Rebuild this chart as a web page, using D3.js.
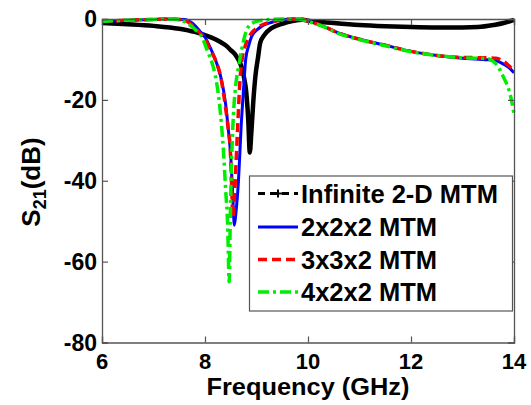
<!DOCTYPE html>
<html>
<head>
<meta charset="utf-8">
<script src="https://cdn.jsdelivr.net/npm/d3@7"></script>
<style>
  body { margin: 0; background: #fff; }
  text { font-family: "Liberation Sans", Arial, sans-serif; font-weight: bold; }
</style>
</head>
<body>
<script>
//chart values
var xTicks = [6, 8, 10, 12, 14];
var yTicks = [0, -20, -40, -60, -80];
var yTickLabels = ["0", "-20", "-40", "-60", "-80"];

var infFreq = [6, 6.5, 7, 7.5, 7.8, 8.0, 8.2, 8.3, 8.4, 8.5, 8.6, 8.65, 8.7, 8.75, 8.8, 8.84, 8.87, 8.9, 8.94, 8.98, 9.03, 9.07, 9.15, 9.3, 9.5, 9.7, 9.9, 10.0, 10.5, 11, 11.5, 12, 12.5, 13, 13.3, 13.6, 13.8, 14];
var infDb   = [-1.0, -1.3, -1.7, -2.4, -3.2, -4.0, -5.0, -5.7, -6.5, -7.7, -9.0, -10.1, -11.5, -14, -18, -25, -33, -28, -20, -14, -9.5, -6, -4, -2.2, -1.2, -0.5, -0.2, -0.4, -1.0, -1.5, -1.8, -2.0, -2.1, -2.1, -2.0, -1.5, -1.0, -0.2];

var mtm2Freq = [6, 6.5, 7, 7.3, 7.6, 7.75, 7.9, 8.0, 8.1, 8.2, 8.3, 8.4, 8.45, 8.5, 8.54, 8.57, 8.6, 8.65, 8.7, 8.75, 8.79, 8.85, 8.9, 9.0, 9.1, 9.3, 9.5, 9.7, 9.9, 10.0, 10.3, 10.6, 11.0, 11.5, 12.0, 12.5, 13.0, 13.5, 13.65, 13.8, 13.9, 14];
var mtm2Db   = [-0.6, -0.3, -0.1, 0, -0.1, -1.0, -3.0, -4.5, -7.0, -10.0, -14.0, -21, -27, -34, -44, -51, -48, -40, -27, -17, -10, -6.5, -4.5, -2.8, -1.8, -0.8, -0.2, 0, -0.1, -0.5, -1.8, -3.5, -5.0, -6.5, -8.0, -9.0, -9.7, -10.1, -10.3, -11.2, -12.0, -13.3];

var mtm3Freq = [6, 6.5, 7, 7.3, 7.55, 7.7, 7.85, 8.0, 8.1, 8.23, 8.3, 8.4, 8.45, 8.49, 8.52, 8.54, 8.56, 8.58, 8.63, 8.68, 8.72, 8.8, 8.9, 9.0, 9.2, 9.5, 9.7, 9.9, 10.0, 10.3, 10.6, 11.0, 11.5, 12.0, 12.5, 13.0, 13.5, 13.65, 13.8, 13.92, 14];
var mtm3Db   = [-0.6, -0.3, -0.1, 0, -0.2, -1.0, -2.8, -5.0, -7.5, -11, -14, -22, -27, -32, -42, -49, -47, -42, -28, -15, -10, -6, -3.5, -2.3, -1.0, -0.2, 0, -0.1, -0.5, -1.8, -3.5, -5.0, -6.5, -8.0, -9.0, -9.5, -9.6, -9.7, -10.5, -11.8, -12.8];

var mtm4Freq = [6, 6.5, 7, 7.3, 7.5, 7.65, 7.8, 7.96, 8.05, 8.14, 8.2, 8.29, 8.36, 8.4, 8.44, 8.47, 8.49, 8.51, 8.53, 8.56, 8.6, 8.65, 8.71, 8.8, 8.87, 9.0, 9.2, 9.5, 9.8, 10.0, 10.3, 10.6, 11.0, 11.5, 12.0, 12.5, 13.0, 13.5, 13.6, 13.7, 13.8, 13.9, 13.95, 14];
var mtm4Db   = [-0.6, -0.3, -0.1, 0, -0.2, -1.0, -2.5, -5.0, -8.0, -11, -14, -22, -33, -42, -51, -65, -50, -38, -30, -22, -16, -12, -7.7, -3, -1.5, -0.6, -0.2, 0, 0, -0.6, -1.9, -3.6, -5.1, -6.6, -8.1, -9.0, -9.6, -9.8, -10.5, -12, -14.5, -17.5, -20, -23.5];

var seriesNames = ["Infinite 2-D MTM", "2x2x2 MTM", "3x3x2 MTM", "4x2x2 MTM"];

window.onload = setChart();

function setChart(){

    //frame and plot box
    var width = 531,
        height = 405;
    var left = 102, right = 514, top = 19, bottom = 342.5;

    var svg = d3.select("body")
        .append("svg")
        .attr("width", width)
        .attr("height", height);

    var x = d3.scaleLinear().domain([6, 14]).range([left, right]);
    var y = d3.scaleLinear().domain([-80, 0]).range([bottom, top]);

    //series styles
    var series = [
        {name: seriesNames[0], f: infFreq, v: infDb, color: "#000", w: 4.5, dash: null},
        {name: seriesNames[1], f: mtm2Freq, v: mtm2Db, color: "#0000ff", w: 3, dash: null},
        {name: seriesNames[2], f: mtm3Freq, v: mtm3Db, color: "#ff0000", w: 3.5, dash: "9,5"},
        {name: seriesNames[3], f: mtm4Freq, v: mtm4Db, color: "#00ee00", w: 3.5, dash: "11,4,3,4"}
    ];

    var line = d3.line()
        .x(function(d){ return x(d[0]); })
        .y(function(d){ return y(d[1]); })
        .curve(d3.curveMonotoneX);

    series.forEach(function(s){
        var pts = s.f.map(function(f, i){ return [f, s.v[i]]; });
        svg.append("path")
            .datum(pts)
            .attr("fill", "none")
            .attr("stroke", s.color)
            .attr("stroke-width", s.w)
            .attr("stroke-dasharray", s.dash)
            .attr("d", line);
    });

    //axes box with inward ticks on all four sides
    var axisColor = "#555";
    var bottomAxis = d3.axisBottom(x).tickValues(xTicks).tickSize(-6).tickFormat("");
    var topAxis = d3.axisTop(x).tickValues(xTicks).tickSize(-6).tickFormat("");
    var leftAxis = d3.axisLeft(y).tickValues(yTicks).tickSize(-6).tickFormat("");
    var rightAxis = d3.axisRight(y).tickValues(yTicks).tickSize(-6).tickFormat("");

    [[bottomAxis, "translate(0," + bottom + ")"],
     [topAxis, "translate(0," + top + ")"],
     [leftAxis, "translate(" + left + ",0)"],
     [rightAxis, "translate(" + right + ",0)"]].forEach(function(a){
        var g = svg.append("g").attr("transform", a[1]).call(a[0]);
        g.selectAll("path").attr("stroke", axisColor).attr("stroke-width", 1.3);
        g.selectAll("line").attr("stroke", axisColor).attr("stroke-width", 1.2);
    });

    //tick labels
    svg.selectAll(".xlab")
        .data(xTicks)
        .enter()
        .append("text")
        .attr("x", function(d){ return x(d); })
        .attr("y", 368.5)
        .attr("text-anchor", "middle")
        .attr("font-size", 22)
        .text(function(d){ return d; });

    svg.selectAll(".ylab")
        .data(yTicks)
        .enter()
        .append("text")
        .attr("x", 97)
        .attr("y", function(d){ return y(d) + 8; })
        .attr("text-anchor", "end")
        .attr("font-size", 23)
        .text(function(d, i){ return yTickLabels[i]; });

    //axis titles
    svg.append("text")
        .attr("x", (left + right) / 2)
        .attr("y", 395)
        .attr("text-anchor", "middle")
        .attr("font-size", 24)
        .attr("textLength", 203)
        .attr("lengthAdjust", "spacingAndGlyphs")
        .text("Frequency (GHz)");

    var ylabel = svg.append("text")
        .attr("transform", "translate(40,182) rotate(-90)")
        .attr("text-anchor", "middle")
        .attr("font-size", 26);
    ylabel.append("tspan").text("S");
    ylabel.append("tspan").attr("font-size", 18).attr("dy", 6).text("21");
    ylabel.append("tspan").attr("dy", -6).text("(dB)");

    //legend
    var lg = svg.append("g");
    lg.append("rect")
        .attr("x", 249.5)
        .attr("y", 176)
        .attr("width", 263)
        .attr("height", 135)
        .attr("fill", "#fff")
        .attr("stroke", axisColor)
        .attr("stroke-width", 1.2);

    var rowY = [193.5, 227, 259.5, 292];
    series.forEach(function(s, i){
        var yy = rowY[i];
        lg.append("line")
            .attr("x1", 258).attr("x2", 298)
            .attr("y1", yy).attr("y2", yy)
            .attr("stroke", s.color)
            .attr("stroke-width", i === 0 ? 3 : s.w)
            .attr("stroke-dasharray", i === 0 ? "7,5" : s.dash);
        if (i === 0) {
            lg.append("path")
                .attr("d", "M274," + yy + "h8M278," + (yy - 4) + "v8")
                .attr("stroke", "#000")
                .attr("stroke-width", 2);
        }
        lg.append("text")
            .attr("x", 301)
            .attr("y", yy + 9)
            .attr("font-size", 25.5)
            .text(s.name);
    });
};
</script>
</body>
</html>
